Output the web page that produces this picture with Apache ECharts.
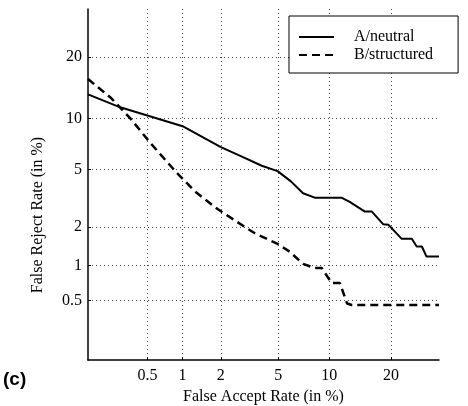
<!DOCTYPE html>
<html lang="en">
	<head>
		<meta charset="UTF-8">
		<title>DET curve</title>
		<script src="https://cdn.jsdelivr.net/npm/echarts@6/dist/echarts.min.js"></script>
		<style>
			html, body { margin: 0; padding: 0; background: #fff; }
			#detChart { width: 468px; height: 406px; }
		</style>
	</head>
	<body>
		<div id="detChart"></div>

		<script>
			// tick labels (in %)
			const tickPcts = [0.5, 1, 2, 5, 10, 20];

			// A/neutral : false accept / false reject (in %)
			const faNeutral = [0.135, 0.28, 1.0, 2.0, 2.9, 3.9, 4.95, 6.0, 7.1, 8.3, 11.6, 12.8, 15.2, 16.4, 18.5, 19.5, 22.2, 24.4, 25.5, 26.7, 27.8, 30.85];
			const frNeutral = [13.4, 11.5, 9.1, 6.9, 6.0, 5.3, 4.9, 4.2, 3.5, 3.26, 3.26, 3.05, 2.6, 2.6, 2.1, 2.08, 1.63, 1.63, 1.42, 1.42, 1.18, 1.18];

			// B/structured
			const faStruct = [0.135, 0.23, 0.35, 0.53, 0.9, 1.26, 1.9, 3.0, 3.5, 4.95, 5.9, 7.1, 8.3, 9.1, 10.3, 11.4, 12.4, 13.1, 30.85];
			const frStruct = [15.9, 12.8, 10.0, 7.3, 4.75, 3.6, 2.7, 2.0, 1.8, 1.49, 1.29, 1.03, 0.95, 0.95, 0.71, 0.71, 0.47, 0.455, 0.455];

			// inverse normal CDF (normal deviate scale of a DET plot)
			function probit(p) {
				const a = [-3.969683028665376e+01, 2.209460984245205e+02, -2.759285104469687e+02, 1.383577518672690e+02, -3.066479806614716e+01, 2.506628277459239e+00];
				const b = [-5.447609879822406e+01, 1.615858368580409e+02, -1.556989798598866e+02, 6.680131188771972e+01, -1.328068155288572e+01];
				const c = [-7.784894002430293e-03, -3.223964580411365e-01, -2.400758277161838e+00, -2.549732539343734e+00, 4.374664141464968e+00, 2.938163982698783e+00];
				const d = [7.784695709041462e-03, 3.224671290700398e-01, 2.445134137142996e+00, 3.754408661907416e+00];
				const pl = 0.02425;
				let q, r;
				if (p < pl) {
					q = Math.sqrt(-2 * Math.log(p));
					return (((((c[0] * q + c[1]) * q + c[2]) * q + c[3]) * q + c[4]) * q + c[5]) / ((((d[0] * q + d[1]) * q + d[2]) * q + d[3]) * q + 1);
				}
				if (p > 1 - pl) {
					q = Math.sqrt(-2 * Math.log(1 - p));
					return -(((((c[0] * q + c[1]) * q + c[2]) * q + c[3]) * q + c[4]) * q + c[5]) / ((((d[0] * q + d[1]) * q + d[2]) * q + d[3]) * q + 1);
				}
				q = p - 0.5;
				r = q * q;
				return (((((a[0] * r + a[1]) * r + a[2]) * r + a[3]) * r + a[4]) * r + a[5]) * q / (((((b[0] * r + b[1]) * r + b[2]) * r + b[3]) * r + b[4]) * r + 1);
			}

			const toDev = (pct) => probit(pct / 100);
			const tickVals = tickPcts.map(toDev);
			const tickText = (val) => {
				const i = tickVals.findIndex((v) => Math.abs(v - val) < 1e-6);
				return i < 0 ? '' : String(tickPcts[i]);
			};

			const pairs = (xs, ys) => xs.map((x, i) => [toDev(x), toDev(ys[i])]);

			const serif = '"Liberation Serif", "DejaVu Serif", serif';

			const axisCommon = (name) => ({
				type: 'value',
				min: -3,
				max: -0.5,
				axisLine: { show: true, onZero: false, lineStyle: { color: '#000', width: 1.5 } },
				axisTick: { show: true, inside: true, length: 3, customValues: tickVals, lineStyle: { color: '#000' } },
				axisLabel: {
					customValues: tickVals,
					formatter: tickText,
					fontFamily: serif,
					fontSize: 16,
					color: '#000'
				},
				splitLine: {
					show: true,
					lineStyle: { color: '#444', width: 1, type: [1, 3] } // dotted grid
				},
				name: name,
				nameLocation: 'middle',
				nameTextStyle: { fontFamily: serif, fontSize: 16, color: '#000' }
			});

			const detDom = document.getElementById('detChart');
			const detChart = echarts.init(detDom, null, { renderer: 'canvas' });

			const xAxisOpt = axisCommon('False Accept Rate (in %)');
			xAxisOpt.nameGap = 19;
			xAxisOpt.axisLabel.margin = 8;

			const yAxisOpt = axisCommon('');
			yAxisOpt.axisLabel.margin = 6;

			const detOpt = {
				animation: false,
				backgroundColor: '#fff',
				grid: {
					left: 88,
					top: 9,
					width: 351,
					height: 351,
					outerBoundsMode: 'none'
				},
				xAxis: xAxisOpt,
				yAxis: yAxisOpt,
				legend: {
					orient: 'vertical',
					left: 289,
					top: 16,
					padding: [13, 25, 10, 9],
					itemGap: 2,
					itemWidth: 35,
					itemHeight: 16,
					backgroundColor: '#fff',
					borderColor: '#000',
					borderWidth: 1,
					itemStyle: { opacity: 0 }, // line only, no marker
					textStyle: { fontFamily: serif, fontSize: 16, color: '#000', padding: [0, 0, 0, 15] },
					data: ['A/neutral', 'B/structured']
				},
				graphic: [
					{
						type: 'text',
						x: 38,
						y: 215,
						rotation: Math.PI / 2,
						style: {
							text: 'False Reject Rate (in %)',
							font: '16px ' + serif,
							fill: '#000',
							align: 'center',
							verticalAlign: 'middle'
						}
					},
					{
						type: 'text',
						left: 3,
						top: 370,
						style: {
							text: '(c)',
							font: 'bold 19px "Liberation Sans", Arial, sans-serif',
							fill: '#000'
						}
					}
				],
				series: [
					{
						name: 'A/neutral',
						type: 'line',
						data: pairs(faNeutral, frNeutral),
						showSymbol: false,
						symbol: 'none',
						lineStyle: { color: '#000', width: 2 },
						itemStyle: { color: '#000' }
					},
					{
						name: 'B/structured',
						type: 'line',
						data: pairs(faStruct, frStruct),
						showSymbol: false,
						symbol: 'none',
						lineStyle: { color: '#000', width: 2.5, type: [8, 5] },
						itemStyle: { color: '#000' }
					}
				]
			};

			detChart.setOption(detOpt);
		</script>
	</body>
</html>
